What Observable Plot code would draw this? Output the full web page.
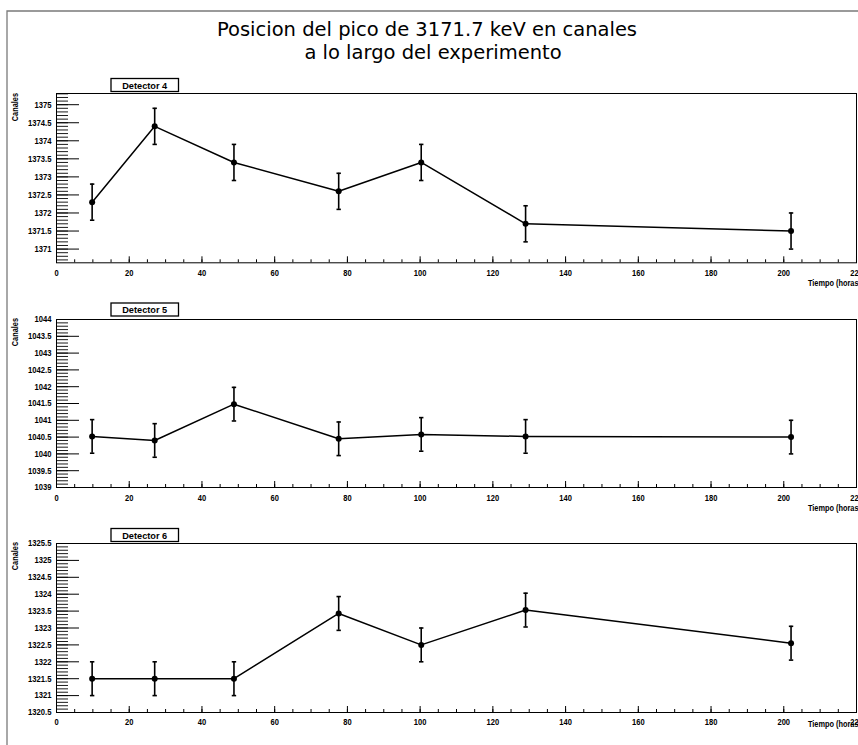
<!DOCTYPE html>
<html><head><meta charset="utf-8">
<script src="https://cdn.jsdelivr.net/npm/d3@7"></script>
<script src="https://cdn.jsdelivr.net/npm/@observablehq/plot@0.6"></script>
<style>
html,body{margin:0;padding:0;background:#fff;}
#root{position:relative;width:858px;height:745px;overflow:hidden;background:#fff;}
#root svg{position:absolute;left:0;}
</style></head><body><div id="root"></div>
<script>
// ---- data ----
const times = [9.8, 27, 48.8, 77.6, 100.3, 129, 202];
const det4 = [1372.3, 1374.4, 1373.4, 1372.6, 1373.4, 1371.7, 1371.5];
const det5 = [1040.52, 1040.4, 1041.48, 1040.45, 1040.58, 1040.52, 1040.5];
const det6 = [1321.5, 1321.5, 1321.5, 1323.43, 1322.5, 1323.53, 1322.55];
const err4 = [0.5, 0.5, 0.5, 0.5, 0.5, 0.5, 0.5];
const err5 = [0.5, 0.5, 0.5, 0.5, 0.5, 0.5, 0.5];
const err6 = [0.5, 0.5, 0.5, 0.5, 0.5, 0.5, 0.5];
const detectorNames = ["Detector 4", "Detector 5", "Detector 6"];
const xTicks = [0, 20, 40, 60, 80, 100, 120, 140, 160, 180, 200, 220];
const yTicks4 = [1371, 1371.5, 1372, 1372.5, 1373, 1373.5, 1374, 1374.5, 1375];
const yTicks5 = [1039, 1039.5, 1040, 1040.5, 1041, 1041.5, 1042, 1042.5, 1043, 1043.5, 1044];
const yTicks6 = [1320.5, 1321, 1321.5, 1322, 1322.5, 1323, 1323.5, 1324, 1324.5, 1325, 1325.5];
const titleLines = ["Posicion del pico de 3171.7 keV en canales", "a lo largo del experimento"];
const yLabel = "Canales";
const xLabel = "Tiempo (horas)";

const panels = [
  {name: detectorNames[0], values: det4, errors: err4, domain: [1370.62, 1375.31], yTicks: yTicks4,
   frameTop: 93, frameBottom: 262.3, labelPad: 6.5, boxTop: 78.5, canalesTop: 93, tiempo: 286},
  {name: detectorNames[1], values: det5, errors: err5, domain: [1039, 1044], yTicks: yTicks5,
   frameTop: 319, frameBottom: 487, labelPad: 6.5, boxTop: 303, canalesTop: 318, tiempo: 511},
  {name: detectorNames[2], values: det6, errors: err6, domain: [1320.5, 1325.5], yTicks: yTicks6,
   frameTop: 543, frameBottom: 712, labelPad: 5.5, boxTop: 528.5, canalesTop: 542, tiempo: 727}
];

const root = document.getElementById("root");
const W = 858, ML = 56, MR = 2, frameW = W - ML - MR;
const font = "'Liberation Sans', Arial, sans-serif";
const capSymbol = {draw(ctx) { ctx.moveTo(-2.2, 0); ctx.lineTo(2.2, 0); }};
const xMinor = d3.range(0, 221, 5);

// narrow the bold sans labels horizontally (condensed look of the original)
function condense(svg, selector, sx) {
  svg.querySelectorAll(selector).forEach(t => {
    const tr = t.getAttribute("transform");
    if (tr && tr.includes("translate")) t.setAttribute("transform", tr + ` scale(${sx},1)`);
  });
}

for (const p of panels) {
  const rows = times.map((t, i) => ({t, v: p.values[i], e: p.errors[i]}));
  const frameH = p.frameBottom - p.frameTop;
  const mt = 20, mb = 22;
  const step = (p.yTicks[1] - p.yTicks[0]) / 5;
  const yMinor = d3.range(Math.ceil(p.domain[0] / step) * step, p.domain[1], step).map(v => +v.toFixed(3));
  const svg = Plot.plot({
    width: W, height: frameH + mt + mb,
    marginLeft: ML, marginRight: MR, marginTop: mt, marginBottom: mb,
    x: {domain: [0, 220]},
    y: {domain: p.domain},
    style: {fontFamily: font, fontWeight: "bold", background: "transparent", overflow: "visible", color: "black"},
    marks: [
      Plot.frame({stroke: "black", strokeWidth: 1}),
      Plot.tickY(yMinor, {y: d => d, stroke: "black", strokeWidth: 0.9, insetRight: frameW - 12}),
      Plot.tickY(p.yTicks, {y: d => d, stroke: "black", strokeWidth: 1, insetRight: frameW - 23}),
      Plot.tickX(xMinor, {x: d => d, stroke: "black", strokeWidth: 1, insetTop: frameH - 3}),
      Plot.tickX(xTicks, {x: d => d, stroke: "black", strokeWidth: 1, insetTop: frameH - 6}),
      Plot.axisY(p.yTicks, {tickSize: 0, tickPadding: 5, fontSize: 9, tickFormat: d => String(d), label: null, fill: "black"}),
      Plot.axisX(xTicks, {tickSize: 0, tickPadding: p.labelPad, fontSize: 9.2, tickFormat: d => String(d), label: null, fill: "black"}),
      Plot.line(rows, {x: "t", y: "v", stroke: "black", strokeWidth: 1.5}),
      Plot.ruleX(rows, {x: "t", y1: d => d.v - d.e, y2: d => d.v + d.e, stroke: "black", strokeWidth: 1.6}),
      Plot.dot(rows, {x: "t", y: d => d.v - d.e, symbol: capSymbol, stroke: "black", strokeWidth: 1.6, fill: "none"}),
      Plot.dot(rows, {x: "t", y: d => d.v + d.e, symbol: capSymbol, stroke: "black", strokeWidth: 1.6, fill: "none"}),
      Plot.dot(rows, {x: "t", y: "v", r: 3, fill: "black", stroke: "none"})
    ]
  });
  condense(svg, 'g[aria-label="y-axis tick label"] text', 0.85);
  condense(svg, 'g[aria-label="x-axis tick label"] text', 0.82);
  svg.style.top = (p.frameTop - mt) + "px";
  root.appendChild(svg);
}

// overlay with title, frame border and panel annotations
const ov = d3.select(root).append("svg")
  .attr("width", 858).attr("height", 745)
  .style("top", "0px").style("background", "transparent").style("pointer-events", "none");
ov.append("path").attr("d", "M7,745 L7,11 L860,11").attr("fill", "none").attr("stroke", "#7a7a7a").attr("stroke-width", 1.3);
ov.append("text").attr("x", 427).attr("y", 36).attr("text-anchor", "middle")
  .attr("font-family", "'DejaVu Sans', sans-serif").attr("font-size", 19.5).text(titleLines[0]);
ov.append("text").attr("x", 433).attr("y", 58.5).attr("text-anchor", "middle")
  .attr("font-family", "'DejaVu Sans', sans-serif").attr("font-size", 19.5).text(titleLines[1]);
for (const p of panels) {
  ov.append("rect").attr("x", 111).attr("y", p.boxTop).attr("width", 67.5).attr("height", 13)
    .attr("fill", "white").attr("stroke", "black").attr("stroke-width", 1.3);
  ov.append("text").attr("x", 144.7).attr("y", p.boxTop + 10).attr("text-anchor", "middle")
    .attr("font-family", font).attr("font-weight", "bold").attr("font-size", 9.2)
    .text(p.name);
  ov.append("text").attr("transform", `translate(17.8,${p.canalesTop}) rotate(-90) scale(0.82,1)`).attr("text-anchor", "end")
    .attr("font-family", font).attr("font-weight", "bold").attr("font-size", 9).text(yLabel);
  ov.append("text").attr("transform", `translate(861,${p.tiempo}) scale(0.82,1)`).attr("text-anchor", "end")
    .attr("font-family", font).attr("font-weight", "bold").attr("font-size", 9).text(xLabel);
}
</script></body></html>
